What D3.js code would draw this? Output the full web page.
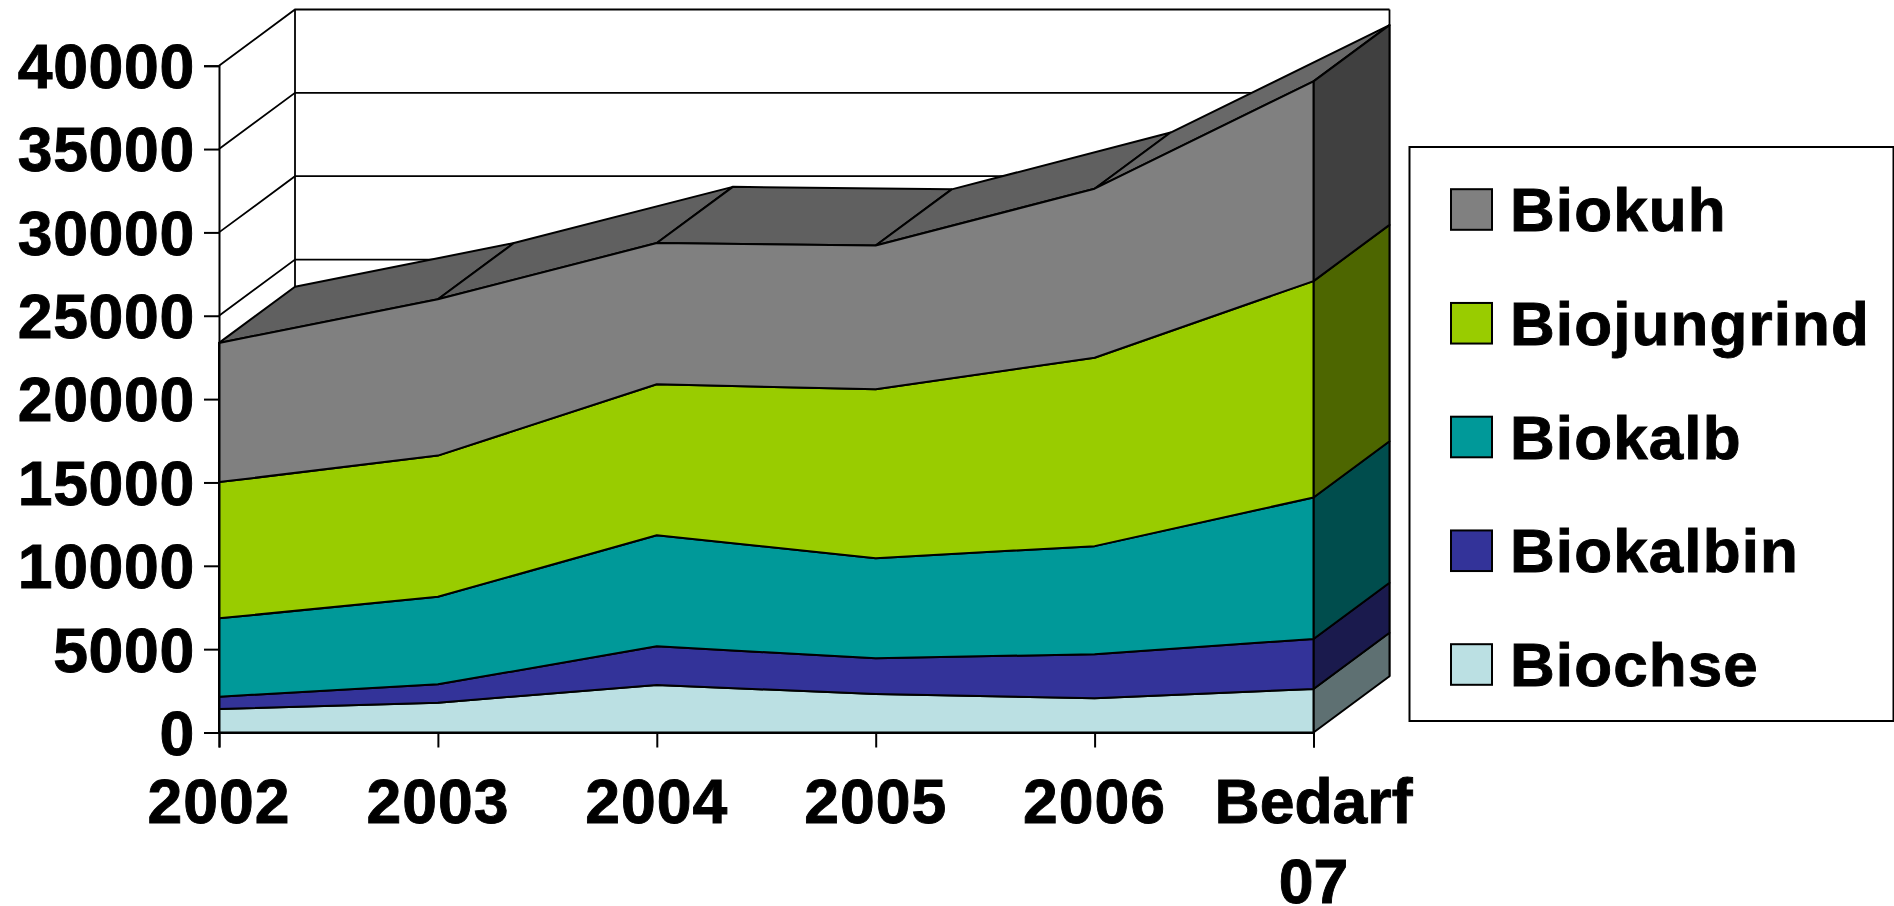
<!DOCTYPE html>
<html>
<head>
<meta charset="utf-8">
<script src="https://cdn.jsdelivr.net/npm/d3@7"></script>
<style>
  html, body { margin: 0; padding: 0; background: #fff; }
  svg { display: block; }
  text { font-family: "Liberation Sans", Arial, sans-serif; font-weight: bold; fill: #000; stroke: #000; stroke-width: 0.9px; }
</style>
</head>
<body>
<svg id="chart" width="1894" height="906"></svg>
<script>
const categories = ['2002', '2003', '2004', '2005', '2006', 'Bedarf 07'];
const yTicks = [0, 5000, 10000, 15000, 20000, 25000, 30000, 35000, 40000];

// stacked bottom to top
const biochse = [1410, 1790, 2850, 2310, 2060, 2610];
const biokalbin = [740, 1100, 2320, 2140, 2640, 3000];
const biokalb = [4700, 5250, 6660, 6010, 6480, 8490];
const biojungrind = [8170, 8470, 9060, 10130, 11300, 12980];
const biokuh = [8350, 9380, 8470, 8620, 10140, 11980];

const seriesNames = ['Biochse', 'Biokalbin', 'Biokalb', 'Biojungrind', 'Biokuh'];
const seriesValues = [biochse, biokalbin, biokalb, biojungrind, biokuh];
const frontColors = ['#bbe0e3', '#333399', '#009999', '#99cc00', '#808080'];
const sideColors = ['#5e7072', '#1a1a4d', '#004d4d', '#4d6600', '#404040'];
const topColor = '#606060';
const topColorLast = '#686868';

const svg = d3.select('#chart');
const depthX = 76, depthY = -56.2;
const fontSize = 62.5;
const legendFontSize = 62;

const x = d3.scalePoint().domain(categories).range([219, 1313.5]);
const y = d3.scaleLinear().domain([0, 40000]).range([732.5, 65.7]);

const rows = categories.map((c, i) => {
  const row = { category: c };
  seriesNames.forEach((n, s) => { row[n] = seriesValues[s][i]; });
  return row;
});
const layers = d3.stack().keys(seriesNames)(rows);

const front = p => [x(p[0]), y(p[1])];
const back = p => [x(p[0]) + depthX, y(p[1]) + depthY];
const poly = d3.line();

function face(points, fill) {
  svg.append('path')
    .attr('d', poly(points) + 'Z')
    .attr('fill', fill)
    .attr('stroke', '#000')
    .attr('stroke-width', 2)
    .attr('stroke-linejoin', 'round');
}

// walls and gridlines
const walls = svg.append('g').attr('stroke', '#000').attr('stroke-width', 1.8).attr('fill', 'none');
yTicks.forEach(t => {
  const pts = [[x('2002'), y(t)], [x('2002') + depthX, y(t) + depthY], [x('Bedarf 07') + depthX, y(t) + depthY]];
  walls.append('path').attr('d', poly(pts));
});
walls.append('path').attr('d', poly([[x('2002') + depthX, y(40000) + depthY], [x('2002') + depthX, y(0) + depthY]]));
walls.append('path').attr('d', poly([[x('Bedarf 07') + depthX, y(40000) + depthY], [x('Bedarf 07') + depthX, y(0) + depthY]]));

// top surface of the stack
const topLayer = layers[layers.length - 1];
const topPoints = categories.map((c, i) => [c, topLayer[i][1]]);
d3.pairs(topPoints).forEach(([a, b], i) => {
  face([front(a), front(b), back(b), back(a)], i === categories.length - 2 ? topColorLast : topColor);
});

// right side and front of each layer
const lastCat = categories[categories.length - 1];
layers.forEach((layer, s) => {
  const d = layer[categories.length - 1];
  face([front([lastCat, d[0]]), front([lastCat, d[1]]), back([lastCat, d[1]]), back([lastCat, d[0]])], sideColors[s]);
});
const area = d3.area().x((d, i) => x(categories[i])).y0(d => y(d[0])).y1(d => y(d[1]));
layers.forEach((layer, s) => {
  svg.append('path')
    .attr('d', area(layer))
    .attr('fill', frontColors[s])
    .attr('stroke', '#000')
    .attr('stroke-width', 2)
    .attr('stroke-linejoin', 'round');
});

// axes
const yAxis = d3.axisLeft(y).tickValues(yTicks).tickSize(15).tickPadding(9).tickFormat(d3.format('d'));
const yG = svg.append('g').attr('transform', 'translate(219,0)').call(yAxis);
const xAxis = d3.axisBottom(x).tickSize(15).tickFormat('');
const xG = svg.append('g').attr('transform', 'translate(0,732.5)').call(xAxis);
[yG, xG].forEach(g => {
  g.selectAll('path, line').attr('stroke', '#000').attr('stroke-width', 2);
});
yG.selectAll('text')
  .attr('font-size', fontSize)
  .attr('font-family', '"Liberation Sans", Arial, sans-serif')
  .attr('letter-spacing', 0.7)
  .attr('dy', '0.35em');

// x labels, last one breaks on two lines
categories.forEach(c => {
  const t = svg.append('text')
    .attr('text-anchor', 'middle')
    .attr('font-size', fontSize)
    .attr('letter-spacing', c === lastCat ? 0 : 1);
  c.split(' ').forEach((part, i) => {
    t.append('tspan').attr('x', x(c)).attr('y', 822.7 + i * 80).text(part);
  });
});

// legend
svg.append('rect').attr('x', 1409.5).attr('y', 147).attr('width', 484).attr('height', 574)
  .attr('fill', '#fff').attr('stroke', '#000').attr('stroke-width', 2);
const legendOrder = seriesNames.map((n, i) => i).reverse();
const legendY = d3.scalePoint().domain(legendOrder).range([209.5, 664.5]);
legendOrder.forEach(s => {
  svg.append('rect').attr('x', 1451).attr('y', legendY(s) - 20.3).attr('width', 41).attr('height', 40.6)
    .attr('fill', frontColors[s]).attr('stroke', '#000').attr('stroke-width', 2);
  svg.append('text').attr('x', 1510).attr('y', legendY(s) + 21.5)
    .attr('font-size', legendFontSize)
    .attr('letter-spacing', 1.1)
    .text(seriesNames[s]);
});
</script>
</body>
</html>
